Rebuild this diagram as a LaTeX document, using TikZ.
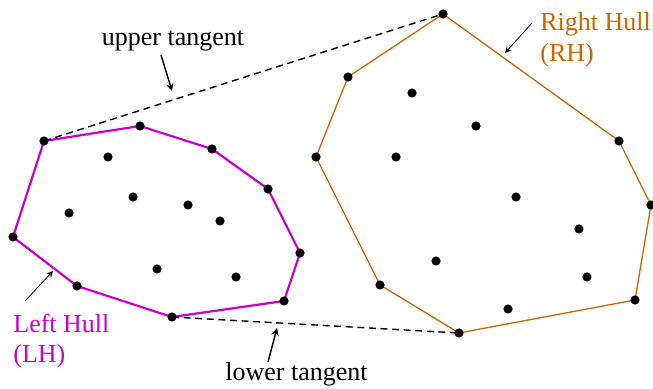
\documentclass[tikz,border=0pt]{standalone}
\usepackage{fontspec}
\setmainfont{Liberation Serif}
\definecolor{lhcol}{RGB}{204,0,204}
\definecolor{rhcol}{RGB}{204,102,0}

\begin{document}
\begin{tikzpicture}[x=0.5pt, y=-0.5pt, >=stealth,
    lhull/.style={lhcol, line width=1.1pt, line join=round},
    rhull/.style={rhcol, line width=0.65pt, line join=round},
    tangent/.style={line width=0.7pt, dash pattern=on 3.5pt off 2.3pt},
    lbl/.style={font=\fontsize{13}{15.5}\selectfont, inner sep=0pt}]
    \useasboundingbox (0,0) rectangle (653,389);

    % 左凸包顶点
    \coordinate (l1) at (44,141);
    \coordinate (l2) at (140,126);
    \coordinate (l3) at (212,149);
    \coordinate (l4) at (268,189);
    \coordinate (l5) at (300,253);
    \coordinate (l6) at (284,301);
    \coordinate (l7) at (172,317);
    \coordinate (l8) at (77,286);
    \coordinate (l9) at (13,237);

    % 左凸包内部点
    \coordinate (li1) at (108,157);
    \coordinate (li2) at (133,197);
    \coordinate (li3) at (69,213);
    \coordinate (li4) at (188,205);
    \coordinate (li5) at (220,221);
    \coordinate (li6) at (157,269);
    \coordinate (li7) at (236,277);

    % 右凸包顶点
    \coordinate (r1) at (443,14);
    \coordinate (r2) at (619,141);
    \coordinate (r3) at (651,205);
    \coordinate (r4) at (635,300);
    \coordinate (r5) at (459,333);
    \coordinate (r6) at (380,285);
    \coordinate (r7) at (316,157);
    \coordinate (r8) at (348,77);

    % 右凸包内部点
    \coordinate (ri1) at (412,93);
    \coordinate (ri2) at (476,126);
    \coordinate (ri3) at (396,157);
    \coordinate (ri4) at (516,197);
    \coordinate (ri5) at (579,229);
    \coordinate (ri6) at (436,261);
    \coordinate (ri7) at (587,277);
    \coordinate (ri8) at (508,309);

    % 画两个凸包
    \draw[lhull] (l1) -- (l2) -- (l3) -- (l4) -- (l5) -- (l6) -- (l7) -- (l8) -- (l9) -- cycle;
    \draw[rhull] (r1) -- (r2) -- (r3) -- (r4) -- (r5) -- (r6) -- (r7) -- (r8) -- cycle;

    % 上下公切线
    \draw[tangent] (l1) -- (r1);
    \draw[tangent] (l7) -- (r5);

    % 画点
    \foreach \p in {l1,l2,l3,l4,l5,l6,l7,l8,l9,li1,li2,li3,li4,li5,li6,li7,
                    r1,r2,r3,r4,r5,r6,r7,r8,ri1,ri2,ri3,ri4,ri5,ri6,ri7,ri8}
        \fill (\p) circle (2.3pt);

    % 标注
    \node[lbl, anchor=base] (utxt) at (173,46) {upper tangent};
    \node[lbl, anchor=base west] (ltxt) at (225,381) {lower tangent};
    \node[lbl, anchor=base west, text=rhcol] (rhtxt) at (540,31) {Right Hull};
    \node[lbl, anchor=base west, text=rhcol] (rhtxt2) at (540,62) {(RH)};
    \node[lbl, anchor=base west, text=lhcol] (lhtxt) at (13,333) {Left Hull};
    \node[lbl, anchor=base west, text=lhcol] (lhtxt2) at (13,363) {(LH)};

    % 标注箭头
    \coordinate (uta) at (161,55);
    \coordinate (utb) at (172,91);
    \coordinate (lta) at (268,362);
    \coordinate (ltb) at (277,328);
    \coordinate (rha) at (532,23);
    \coordinate (rhb) at (505,53);
    \coordinate (lha) at (25,301);
    \coordinate (lhb) at (53,271);
    \draw[->, line width=0.7pt] (uta) -- (utb);
    \draw[->, line width=0.7pt] (lta) -- (ltb);
    \draw[->, line width=0.4pt] (rha) -- (rhb);
    \draw[->, line width=0.4pt] (lha) -- (lhb);
\end{tikzpicture}
\end{document}
